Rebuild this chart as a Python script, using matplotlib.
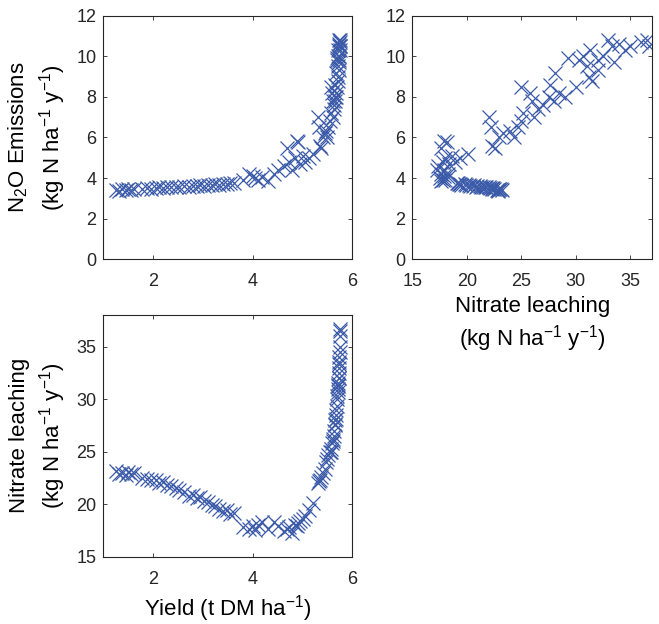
import matplotlib
matplotlib.use("Agg")
from matplotlib import pyplot as plt

#font and axes style (dark grey axes, ticks inside on every side)
plt.rcParams['font.family'] = ['Liberation Sans', 'DejaVu Sans']
plt.rcParams['mathtext.default'] = 'regular'
plt.rcParams['axes.edgecolor'] = '#262626'
plt.rcParams['xtick.color'] = '#262626'
plt.rcParams['ytick.color'] = '#262626'
plt.rcParams['text.color'] = '#262626'

#scenario outputs: yield (t DM/ha), N2O emissions and nitrate leaching (kg N/ha/y)
yield_dm = [1.25, 1.32, 1.38, 1.45, 1.50, 1.55, 1.62, 1.78, 1.88, 1.95,
            2.05, 2.12, 2.20, 2.28, 2.35, 2.45, 2.52, 2.62, 2.72, 2.80,
            2.88, 2.95, 3.02, 3.10, 3.18, 3.25, 3.32, 3.40, 3.48, 3.55,
            3.62,
            3.80, 3.92, 4.00, 4.05, 4.10, 4.18, 4.30, 4.42, 4.50, 4.62,
            4.68, 4.72, 4.78, 4.85, 4.88, 4.90, 4.95, 5.00, 5.05, 5.12,
            5.20,
            5.30, 5.33, 5.35, 5.38, 5.42, 5.45, 5.48, 5.50, 5.52, 5.55,
            5.57, 5.58, 5.60, 5.61, 5.62, 5.63, 5.64, 5.65, 5.65, 5.66,
            5.67, 5.68, 5.68, 5.69, 5.70, 5.70, 5.71, 5.71, 5.72, 5.72,
            5.72, 5.73, 5.73, 5.73, 5.74, 5.74, 5.74, 5.74, 5.75, 5.75,
            5.75, 5.75, 5.75]
n2o_emis = [3.42, 3.38, 3.45, 3.40, 3.48, 3.42, 3.45, 3.47, 3.50, 3.48,
            3.52, 3.55, 3.50, 3.56, 3.55, 3.58, 3.55, 3.60, 3.58, 3.62,
            3.60, 3.65, 3.62, 3.66, 3.65, 3.70, 3.68, 3.72, 3.70, 3.75,
            3.78,
            3.90, 4.20, 4.10, 4.00, 3.90, 4.05, 3.85, 4.20, 4.40, 4.60,
            5.50, 4.80, 4.40, 5.00, 5.85, 5.80, 4.70, 5.10, 4.80, 5.00,
            5.20,
            7.00, 6.50, 5.60, 5.50, 6.00, 6.20, 6.30, 6.00, 6.50, 6.80,
            7.20, 8.50, 8.20, 7.80, 7.00, 7.40, 7.60, 8.00, 8.60, 7.80,
            9.20, 8.20, 8.00, 9.90, 8.50, 9.80, 10.00, 9.50, 9.00, 10.30,
            8.80, 9.30, 9.80, 10.00, 10.80, 10.50, 9.70, 10.60, 10.30, 10.50,
            10.70, 10.80, 10.50]
no3_leach = [23.2, 22.9, 23.0, 22.8, 23.1, 22.9, 23.0, 22.5, 22.4, 22.3,
             22.3, 22.0, 22.1, 21.8, 21.7, 21.5, 21.3, 21.2, 20.8, 20.9,
             20.6, 20.7, 20.3, 20.2, 19.9, 19.8, 19.5, 19.3, 19.4, 19.1,
             19.2,
             17.8, 17.6, 17.9, 17.5, 18.0, 18.3, 17.6, 18.3, 17.9, 17.4,
             17.6, 17.8, 17.3, 18.0, 17.9, 18.2, 18.4, 18.6, 18.9, 19.4,
             20.1,
             22.0, 22.2, 22.3, 22.6, 23.0, 23.3, 24.0, 24.3, 24.7, 25.0,
             25.2, 25.0, 25.8, 26.0, 26.2, 26.5, 27.0, 27.5, 27.6, 28.0,
             28.1, 28.5, 29.0, 29.3, 30.0, 30.3, 30.7, 31.0, 31.2, 31.3,
             31.5, 32.0, 32.0, 32.5, 33.0, 33.3, 33.5, 34.0, 34.5, 35.0,
             36.0, 36.5, 36.7]

lbl_n2o = 'N$_2$O Emissions\n(kg N ha$^{-1}$ y$^{-1}$)'
lbl_no3 = 'Nitrate leaching\n(kg N ha$^{-1}$ y$^{-1}$)'
lbl_yield = 'Yield (t DM ha$^{-1}$)'

col = '#3B5BA9'

def style(ax):
    ax.tick_params(direction='in', top=True, right=True, length=3,
                   width=0.6, labelsize=13)
    ax.tick_params(axis='x', pad=10)
    ax.tick_params(axis='y', pad=5)
    for s in ax.spines.values():
        s.set_linewidth(0.8)

def scatter(ax, x, y):
    ax.plot(x, y, 'x', ms=10, mew=0.9, color=col)

fig = plt.figure(figsize=(6.59, 6.24), dpi=100)

#yield vs N2O
ax1 = fig.add_axes([0.1568, 0.5845, 0.3779, 0.3904])
scatter(ax1, yield_dm, n2o_emis)
ax1.set_xlim(1, 6)
ax1.set_ylim(0, 12)
ax1.set_xticks([2, 4, 6])
ax1.set_yticks(range(0, 13, 2))
ax1.set_ylabel(lbl_n2o, fontsize=16, labelpad=6, linespacing=1.3)
style(ax1)

#leaching vs N2O
ax2 = fig.add_axes([0.6257, 0.5845, 0.3637, 0.3904])
scatter(ax2, no3_leach, n2o_emis)
ax2.set_xlim(15, 37)
ax2.set_ylim(0, 12)
ax2.set_xticks(range(15, 36, 5))
ax2.set_yticks(range(0, 13, 2))
ax2.set_xlabel(lbl_no3, fontsize=16, labelpad=4, linespacing=1.3)
style(ax2)

#yield vs leaching
ax3 = fig.add_axes([0.1568, 0.1079, 0.3779, 0.3873])
scatter(ax3, yield_dm, no3_leach)
ax3.set_xlim(1, 6)
ax3.set_ylim(15, 38)
ax3.set_xticks([2, 4, 6])
ax3.set_yticks(range(15, 36, 5))
ax3.set_xlabel(lbl_yield, fontsize=16, labelpad=4)
ax3.set_ylabel(lbl_no3, fontsize=16, labelpad=6, linespacing=1.3)
style(ax3)

fig.savefig('out.png', dpi=100)
